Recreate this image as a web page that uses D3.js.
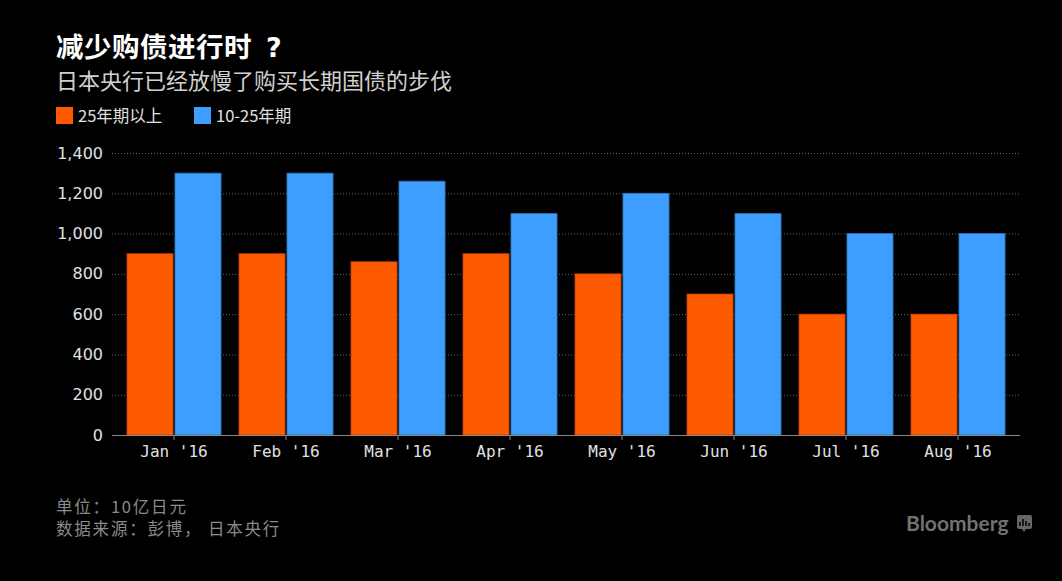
<!DOCTYPE html>
<html><head><meta charset="utf-8">
<script src="https://cdn.jsdelivr.net/npm/d3@7"></script>
<style>body{margin:0;background:#000;}svg{display:block;}</style>
</head><body>
<svg id="c" width="1062" height="581"></svg>
<script>
const categories = ["Jan '16","Feb '16","Mar '16","Apr '16","May '16","Jun '16","Jul '16","Aug '16"];
const seriesNames = ["25年期以上","10-25年期"];
const over25 = [900,900,860,900,800,700,600,600];
const y10to25 = [1300,1300,1260,1100,1200,1100,1000,1000];
const yTicks = [0,200,400,600,800,1000,1200,1400];
const colors = ["#ff5a00","#3d9eff"];
const strokes = ["#b84000","#2a6fb8"];

const svg = d3.select("#c");
svg.append("rect").attr("width",1062).attr("height",581).attr("fill","#000");
const cjk = "'Noto Sans CJK SC', 'Noto Sans', sans-serif";

const title = svg.append("text").attr("x",56).attr("y",57).attr("fill","#fff").attr("font-family",cjk)
  .attr("font-weight","bold").attr("font-size",27.5);
title.append("tspan").attr("letter-spacing",0.5).text("减少购债进行时");
title.append("tspan").attr("dx",14).attr("font-family","'DejaVu Sans', sans-serif").attr("font-size",27).text("?");
svg.append("text").attr("x",56).attr("y",89).attr("fill","#d0d0d0").attr("font-family",cjk)
  .attr("font-size",22).text("日本央行已经放慢了购买长期国债的步伐");

const legX = [56,194];
seriesNames.forEach((n,i)=>{
  svg.append("rect").attr("x",legX[i]).attr("y",107).attr("width",17).attr("height",17).attr("fill",colors[i]);
  svg.append("text").attr("x",legX[i]+22).attr("y",122).attr("fill","#e0e0e0").attr("font-family",cjk)
    .attr("font-size",16.5).text(n);
});

const y = d3.scaleLinear().domain([0,1400]).range([435,153]);
const x0 = d3.scaleBand().domain(categories).range([118,1014]).paddingInner(0.16).paddingOuter(0.08);
const x1 = d3.scaleBand().domain([0,1]).range([0,x0.bandwidth()]).paddingInner(0.04);

// grid
svg.append("g").selectAll("line").data(yTicks.filter(d=>d>0)).join("line")
  .attr("x1",112).attr("x2",1020).attr("y1",d=>y(d)+0.5).attr("y2",d=>y(d)+0.5)
  .attr("stroke","#666").attr("stroke-dasharray","1,2").attr("stroke-width",1);

// y labels
const yAxis = svg.append("g").attr("transform","translate(112,0)")
  .call(d3.axisLeft(y).tickValues(yTicks).tickSize(0).tickPadding(9).tickFormat(d3.format(",")));
yAxis.select(".domain").remove();
yAxis.selectAll("text").attr("fill","#e0e0e0").attr("font-size",16).attr("font-family","'DejaVu Sans', sans-serif");

// bars
const data = categories.map((c,i)=>({c, v:[over25[i], y10to25[i]]}));
const g = svg.append("g").selectAll("g").data(data).join("g")
  .attr("transform",d=>`translate(${x0(d.c)},0)`);
g.selectAll("rect").data(d=>d.v.map((v,k)=>({v,k}))).join("rect")
  .attr("x",d=>x1(d.k)).attr("width",x1.bandwidth())
  .attr("y",d=>y(d.v)).attr("height",d=>y(0)-y(d.v))
  .attr("fill",d=>colors[d.k]).attr("stroke",d=>strokes[d.k]).attr("stroke-width",0.8);

// x axis
const xc = d3.scaleBand().domain(categories).range([118,1014]);
const xAxis = svg.append("g").attr("transform","translate(0,435)")
  .call(d3.axisBottom(xc).tickSize(5).tickPadding(6).tickSizeOuter(0));
xAxis.select(".domain").remove();
svg.append("line").attr("x1",112).attr("x2",1020).attr("y1",435.5).attr("y2",435.5).attr("stroke","#888");
xAxis.selectAll(".tick line").attr("stroke","#888");
xAxis.selectAll("text").attr("fill","#e0e0e0").attr("font-size",16).attr("font-family","'DejaVu Sans Mono', monospace");

// footer
svg.append("text").attr("x",56).attr("y",513).attr("fill","#8a8a8a").attr("font-family",cjk)
  .attr("font-size",16.5).attr("letter-spacing",1.8).text("单位：10亿日元");
svg.append("text").attr("x",56).attr("y",535).attr("fill","#8a8a8a").attr("font-family",cjk)
  .attr("font-size",16.5).attr("letter-spacing",1.8).text("数据来源：彭博， 日本央行");

// Bloomberg logo
svg.append("text").attr("x",906).attr("y",531).attr("fill","#727272").attr("font-family","Lato, 'Open Sans', sans-serif")
  .attr("font-size",21).attr("font-weight","bold").text("Bloomberg");
const lg = svg.append("g").attr("transform","translate(1017,515)");
lg.append("rect").attr("width",15).attr("height",14).attr("rx",2).attr("fill","#666");
lg.append("path").attr("d","M5,14 L7,17 L9,14 Z").attr("fill","#666");
[[3,7],[6,4],[9,6],[12,8]].forEach(([bx,by])=>lg.append("rect").attr("x",bx-0.75).attr("y",by).attr("width",1.5).attr("height",11-by).attr("fill","#000"));
</script>
</body></html>
